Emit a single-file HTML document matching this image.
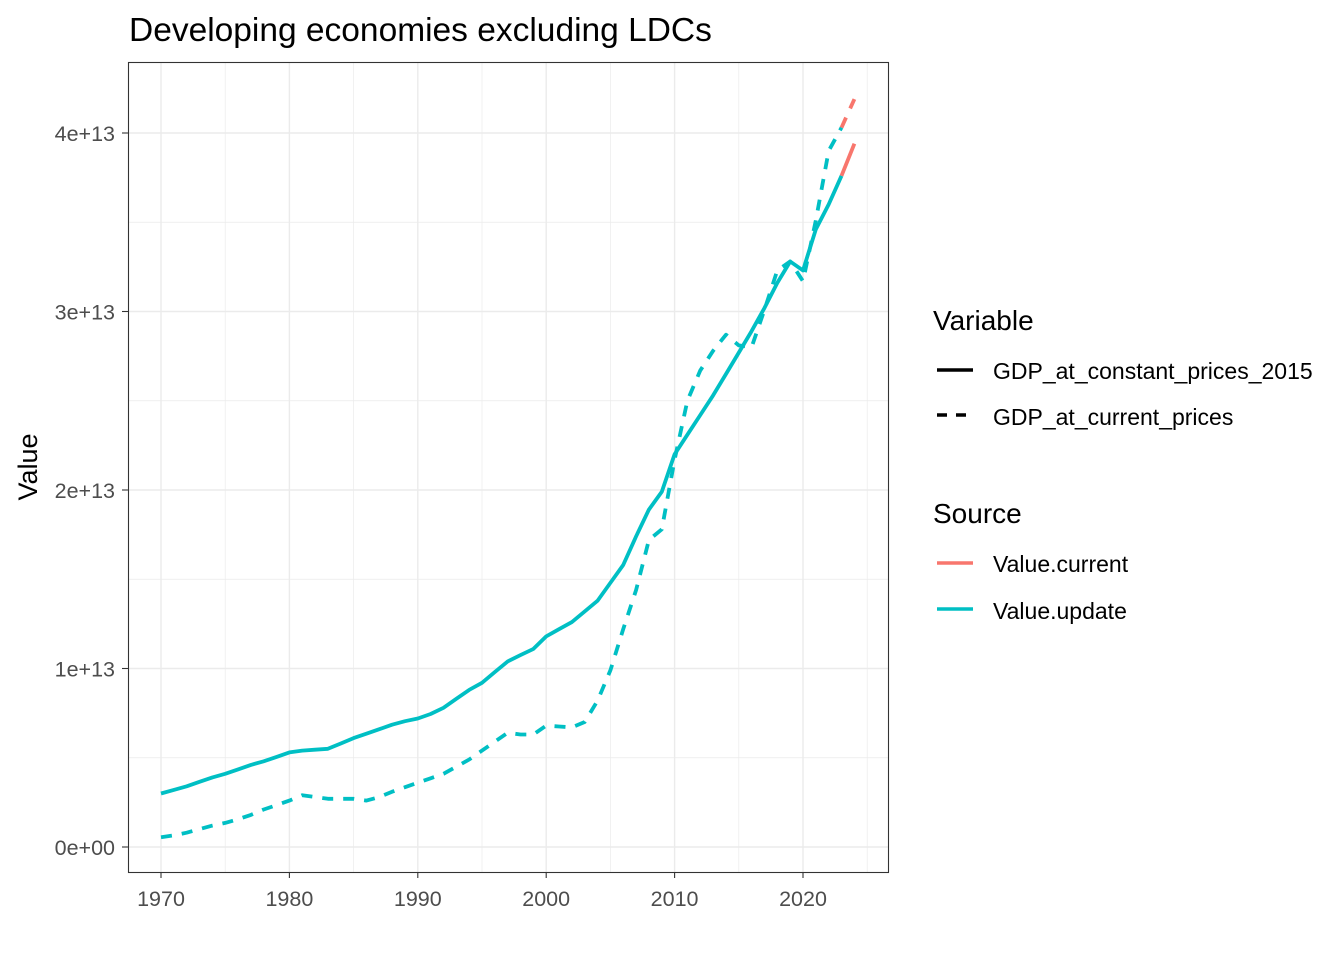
<!DOCTYPE html>
<html><head><meta charset="utf-8"><style>
body{margin:0;background:#fff;font-family:"Liberation Sans",Arial,sans-serif;}
</style></head><body>
<svg id="chart" width="1344" height="960" xmlns="http://www.w3.org/2000/svg" font-family="Liberation Sans, Arial, sans-serif">
<defs><clipPath id="panel"><rect x="128" y="62" width="761" height="810"/></clipPath></defs>
<rect width="1344" height="960" fill="#fff"/>
<text x="129" y="41" font-size="33.5" fill="#000">Developing economies excluding LDCs</text>
<g id="grid" clip-path="url(#panel)"></g>
<g id="series" clip-path="url(#panel)"></g>
<rect x="128.5" y="62.5" width="760" height="810" fill="none" stroke="#333" stroke-width="1.1"/>
<g id="axes"></g>
<text transform="translate(37,467) rotate(-90)" text-anchor="middle" font-size="27" fill="#000">Value</text>
<g>
<text x="933" y="330" font-size="28">Variable</text>
<line x1="937" y1="370" x2="973" y2="370" stroke="#000" stroke-width="3.5"/>
<text x="993" y="379" font-size="23">GDP_at_constant_prices_2015</text>
<line x1="937" y1="415" x2="973" y2="415" stroke="#000" stroke-width="3.5" stroke-dasharray="10,9"/>
<text x="993" y="425" font-size="23">GDP_at_current_prices</text>
<text x="933" y="523" font-size="28">Source</text>
<line x1="937" y1="563" x2="973" y2="563" stroke="#F8766D" stroke-width="3.5"/>
<text x="993" y="572" font-size="23">Value.current</text>
<line x1="937" y1="609" x2="973" y2="609" stroke="#00BFC4" stroke-width="3.5"/>
<text x="993" y="619" font-size="23">Value.update</text>
</g>
</svg>
<script>
const years = [];
for (let y = 1970; y <= 2023; y++) years.push(y);
const constUpdate = [3.0,3.2,3.4,3.65,3.9,4.1,4.35,4.6,4.8,5.05,5.3,5.4,5.45,5.5,5.8,6.1,6.35,6.6,6.85,7.05,7.2,7.45,7.8,8.3,8.8,9.2,9.8,10.4,10.75,11.1,11.8,12.2,12.6,13.2,13.8,14.8,15.8,17.4,18.9,19.9,22.0,23.1,24.2,25.3,26.5,27.7,28.9,30.2,31.6,32.8,32.3,34.6,36.0,37.6];
const currUpdate = [0.55,0.65,0.8,1.0,1.2,1.35,1.55,1.8,2.1,2.35,2.6,2.9,2.8,2.7,2.7,2.7,2.6,2.8,3.1,3.35,3.6,3.85,4.1,4.5,4.9,5.4,5.9,6.4,6.3,6.3,6.8,6.75,6.7,7.0,8.2,9.9,12.2,14.4,17.2,17.8,21.7,25.0,26.7,27.8,28.7,28.1,28.0,30.1,32.3,32.8,31.7,35.1,39.0,40.3];
const yearsCurrent = [2023, 2024];
const constCurrent = [37.6, 39.4];
const currCurrent = [40.3, 41.9];
const xTicks = [1970,1980,1990,2000,2010,2020];
const yTicks = [0,10,20,30,40];
const yTickLabels = ["0e+00","1e+13","2e+13","3e+13","4e+13"];

const NS = "http://www.w3.org/2000/svg";
const X = y => 161 + (y - 1970) * 12.84;
const Y = v => 847 - v * 17.85;
function mk(tag, attrs, parent){const e=document.createElementNS(NS,tag);for(const k in attrs)e.setAttribute(k,attrs[k]);parent.appendChild(e);return e;}
const grid=document.getElementById('grid'), ser=document.getElementById('series'), axes=document.getElementById('axes');
for (let yr=1965; yr<=2025; yr+=5){
  const major = yr%10===0;
  const l=mk('line',{x1:X(yr),x2:X(yr),y1:62,y2:872,stroke:'#ebebeb','stroke-width':major?1.4:0.7},grid);
  
  
}
for (let v=-5; v<=45; v+=5){
  const yy=Y(v);
  const major = v%10===0;
  const l=mk('line',{x1:128,x2:889,y1:yy,y2:yy,stroke:'#ebebeb','stroke-width':major?1.4:0.7},grid);
  
  
}
function path(xs, vs, color, dashed, name){
  const d = xs.map((x,i)=>(i?'L':'M')+X(x).toFixed(1)+','+Y(vs[i]).toFixed(1)).join(' ');
  const p=mk('path',{d:d,fill:'none',stroke:color,'stroke-width':3.8,'stroke-linejoin':'round'},ser);
  if(dashed) p.setAttribute('stroke-dasharray','11,10');
  
  
}
path(years, currUpdate, '#00BFC4', true, 'line-current-prices-update');
path(years, constUpdate, '#00BFC4', false, 'line-constant-prices-update');
path(yearsCurrent, currCurrent, '#F8766D', true, 'line-current-prices-current');
path(yearsCurrent, constCurrent, '#F8766D', false, 'line-constant-prices-current');
xTicks.forEach(t=>{
  mk('line',{x1:X(t),x2:X(t),y1:872,y2:878,stroke:'#333','stroke-width':1.1},axes);
  const tx=mk('text',{x:X(t),y:906,'text-anchor':'middle','font-size':'21.5',fill:'#4d4d4d'},axes);
  tx.textContent=t;
  
  
});
yTicks.forEach((t,i)=>{
  mk('line',{x1:122,x2:128,y1:Y(t),y2:Y(t),stroke:'#333','stroke-width':1.1},axes);
  const tx=mk('text',{x:115,y:Y(t)+8,'text-anchor':'end','font-size':'21.5',fill:'#4d4d4d'},axes);
  tx.textContent=yTickLabels[i];
  
  
});
</script>
</body></html>
